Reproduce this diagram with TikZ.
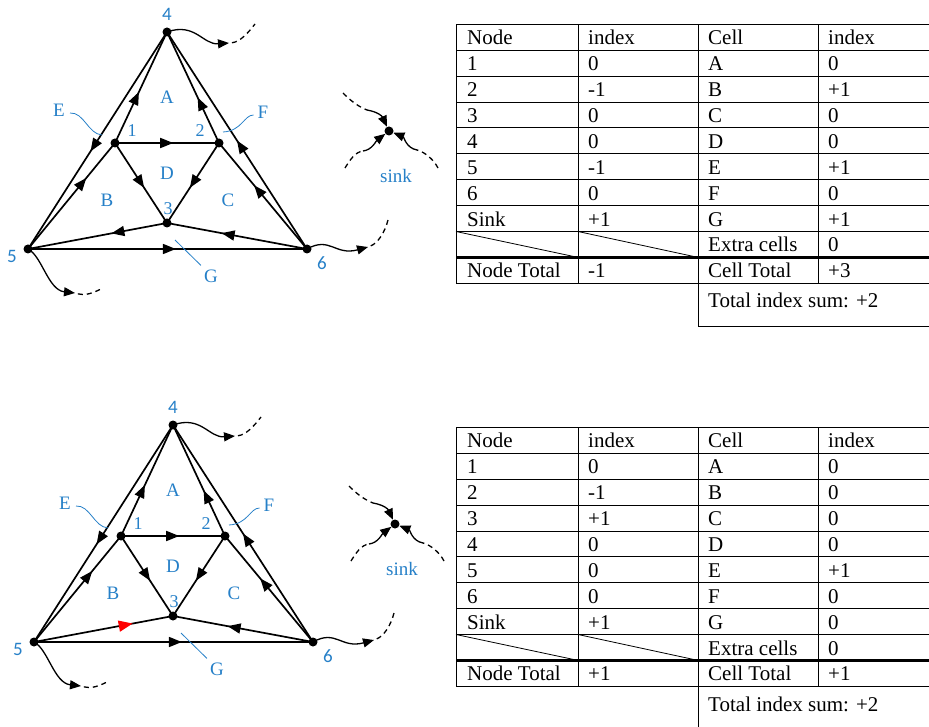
\documentclass[tikz,border=0pt]{standalone}
\usepackage{fontspec}
\setmainfont{Liberation Serif}
\newfontfamily\labelsans{Carlito}
\usetikzlibrary{arrows.meta,decorations.markings}
\definecolor{labelblue}{RGB}{38,128,200}

\tikzset{
  netline/.style={line width=1.7pt, black},
  tip at/.style={postaction={decorate, decoration={markings,
      mark=at position #1 with {\arrow{Triangle[length=13pt,width=10pt]}}}}},
  red tip at/.style={postaction={decorate, decoration={markings,
      mark=at position #1 with {\arrow[red]{Triangle[length=14pt,width=11pt]}}}}},
  vertex/.style={circle, fill=black, inner sep=0pt, minimum size=9pt},
  lbl/.style={text=labelblue, font=\fontsize{19}{19}\selectfont, inner sep=0pt},
  numlbl/.style={text=labelblue, font=\fontsize{18}{18}\selectfont, inner sep=0pt},
  sanslbl/.style={text=labelblue, font=\labelsans\fontsize{19}{19}\selectfont, inner sep=0pt},
  leader/.style={labelblue, line width=0.8pt},
  flow/.style={line width=1.3pt},
  flowtip/.style={-{Triangle[length=11pt,width=9pt]}},
  dashpart/.style={line width=1.3pt, dash pattern=on 5pt off 4pt},
  celltext/.style={font=\fontsize{21}{21}\selectfont, anchor=base west, inner sep=0pt},
  thinrule/.style={line width=0.8pt},
  heavyrule/.style={line width=3pt},
}

% Flow network on the triangle, with its exits and the sink
\newcommand\trinet[2]{%
\begin{scope}[shift={#1}]
  % vertices
  \node[vertex] (#2n1) at (115,143) {};
  \node[vertex] (#2n2) at (219,143) {};
  \node[vertex] (#2n3) at (167,223) {};
  \node[vertex] (#2n4) at (167,32) {};
  \node[vertex] (#2n5) at (28,249) {};
  \node[vertex] (#2n6) at (307,249) {};
  \node[vertex] (#2sink) at (389,131) {};
  % edges
  \draw[netline, tip at=0.55] (#2n4.center) -- (#2n5.center);
  \draw[netline, tip at=0.67] (#2n5.center) -- (#2n1.center);
  \draw[netline, tip at=0.46] (#2n1.center) -- (#2n4.center);
  \draw[netline, tip at=0.50] (#2n6.center) -- (#2n4.center);
  \draw[netline, tip at=0.60] (#2n6.center) -- (#2n2.center);
  \draw[netline, tip at=0.41] (#2n2.center) -- (#2n4.center);
  \draw[netline, tip at=0.56] (#2n1.center) -- (#2n2.center);
  \draw[netline, tip at=0.56] (#2n1.center) -- (#2n3.center);
  \draw[netline, tip at=0.56] (#2n2.center) -- (#2n3.center);
  \draw[netline, tip at=0.61] (#2n6.center) -- (#2n3.center);
  \draw[netline, tip at=0.53] (#2n5.center) -- (#2n6.center);
  % labels
  \node[sanslbl] (#2l4) at (167,14) {4};
  \node[sanslbl] (#2l5) at (12,256) {5};
  \node[sanslbl] (#2l6) at (322,263) {6};
  \node[numlbl] (#2l1) at (132,131) {1};
  \node[numlbl] (#2l2) at (200,131) {2};
  \node[numlbl] (#2l3) at (168,209) {3};
  \node[lbl] (#2lA) at (167,97) {A};
  \node[lbl] (#2lB) at (107,200) {B};
  \node[lbl] (#2lC) at (228,200) {C};
  \node[lbl] (#2lD) at (167,173) {D};
  \node[lbl] (#2lE) at (59,110) {E};
  \node[lbl] (#2lF) at (263,112) {F};
  \node[lbl] (#2lG) at (211,276) {G};
  \node[lbl] (#2lsink) at (396,176) {sink};
  % leaders
  \coordinate (#2pE) at (102,135);
  \coordinate (#2pF) at (223,132);
  \coordinate (#2pG) at (175,240);
  \draw[leader] ([xshift=5pt,yshift=-3pt]#2lE.east) .. controls (84,112) and (88,134) .. (#2pE);
  \draw[leader] ([xshift=-4pt,yshift=-3pt]#2lF.west) .. controls (244,115) and (242,131) .. (#2pF);
  \draw[leader] ([xshift=-3pt,yshift=4pt]#2lG.north west) -- (#2pG);
  % exits from the outer vertices
  \coordinate (#2x4a) at (229,43);  \coordinate (#2x4b) at (255,24);
  \coordinate (#2x5a) at (75,293);  \coordinate (#2x5b) at (101,289);
  \coordinate (#2x6a) at (368,247); \coordinate (#2x6b) at (388,220);
  \draw[flow, flowtip] (#2n4.center) .. controls (195,22) and (203,45) .. (#2x4a);
  \draw[dashpart, shorten <=3pt] (#2x4a) .. controls (240,42) and (248,33) .. (#2x4b);
  \draw[flow, flowtip] (#2n5.center) .. controls (42,256) and (48,290) .. (#2x5a);
  \draw[dashpart, shorten <=3pt] (#2x5a) .. controls (85,296) and (93,293) .. (#2x5b);
  \draw[flow, flowtip] (#2n6.center) .. controls (330,236) and (335,256) .. (#2x6a);
  \draw[dashpart, shorten <=3pt] (#2x6a) .. controls (378,243) and (385,232) .. (#2x6b);
  % flows into the sink
  \coordinate (#2s1a) at (343,93);  \coordinate (#2s1b) at (367,110);
  \coordinate (#2s2a) at (345,168); \coordinate (#2s2b) at (363,151);
  \coordinate (#2s3a) at (438,168); \coordinate (#2s3b) at (417,150);
  \draw[dashpart] (#2s1a) .. controls (350,100) and (357,106) .. (#2s1b);
  \draw[flow, flowtip] (#2s1b) .. controls (378,112) and (382,116) .. (#2sink);
  \draw[dashpart] (#2s2a) .. controls (350,160) and (355,152) .. (#2s2b);
  \draw[flow, flowtip] (#2s2b) .. controls (372,150) and (376,141) .. (#2sink);
  \draw[dashpart] (#2s3a) .. controls (434,160) and (425,152) .. (#2s3b);
  \draw[flow, flowtip] (#2s3b) .. controls (406,148) and (404,137) .. (#2sink);
\end{scope}}

% Index table: #1 shift, #2 prefix, #3 node indices, #4 cell indices,
% #5 node total, #6 cell total
\newcommand\indextable[6]{%
\begin{scope}[shift={#1}]
  \foreach \k in {0,...,8,10}
    \draw[thinrule] (456,24.3+25.9*\k) -- (929,24.3+25.9*\k);
  \draw[heavyrule] (456,257.4) -- (929,257.4);
  \draw[thinrule] (456,24.3) -- (456,283.3);
  \draw[thinrule] (578,24.3) -- (578,283.3);
  \draw[thinrule] (818,24.3) -- (818,283.3);
  \draw[thinrule] (698,24.3) -- (698,326.7);
  \draw[thinrule] (698,326.7) -- (929,326.7);
  \draw[thinrule] (456,231.5) -- (578,257.4);
  \draw[thinrule] (578,231.5) -- (698,257.4);
  \node[celltext] (#2h1) at (467,44.8) {Node};
  \node[celltext] (#2h2) at (588,44.8) {index};
  \node[celltext] (#2h3) at (708,44.8) {Cell};
  \node[celltext] (#2h4) at (828,44.8) {index};
  \foreach \name [count=\i] in {1,2,3,4,5,6,Sink}
    \node[celltext] (#2nn\i) at (467,44.8+25.9*\i) {\name};
  \foreach \v [count=\i] in {#3}
    \node[celltext] (#2nv\i) at (588,44.8+25.9*\i) {\v};
  \foreach \name [count=\i] in {A,B,C,D,E,F,G,Extra cells}
    \node[celltext] (#2cn\i) at (708,44.8+25.9*\i) {\name};
  \foreach \v [count=\i] in {#4}
    \node[celltext] (#2cv\i) at (828,44.8+25.9*\i) {\v};
  \node[celltext] (#2nt) at (467,277.4) {Node Total};
  \node[celltext] (#2ntv) at (588,277.4) {#5};
  \node[celltext] (#2ct) at (708,277.4) {Cell Total};
  \node[celltext] (#2ctv) at (828,277.4) {#6};
  \node[celltext] (#2sum) at (708,308) {Total index sum: +2};
\end{scope}}

\begin{document}
\begin{tikzpicture}[x=1pt,y=-1pt]
  \useasboundingbox[fill=white] (0,0) rectangle (929,727);

  % upper network: flow 3 -> 5
  \trinet{(0,0)}{t}
  \draw[netline, tip at=0.40] (tn3.center) -- (tn5.center);

  % lower network: flow 5 -> 3 reversed
  \trinet{(6,393)}{b}
  \draw[netline, red tip at=0.71] (bn5.center) -- (bn3.center);

  \indextable{(0,0)}{tt}{0,-1,0,0,-1,0,+1}{0,+1,0,0,+1,0,+1,0}{-1}{+3}
  \indextable{(0,403)}{bt}{0,-1,+1,0,0,0,+1}{0,0,0,0,+1,0,0,0}{+1}{+1}
\end{tikzpicture}
\end{document}
